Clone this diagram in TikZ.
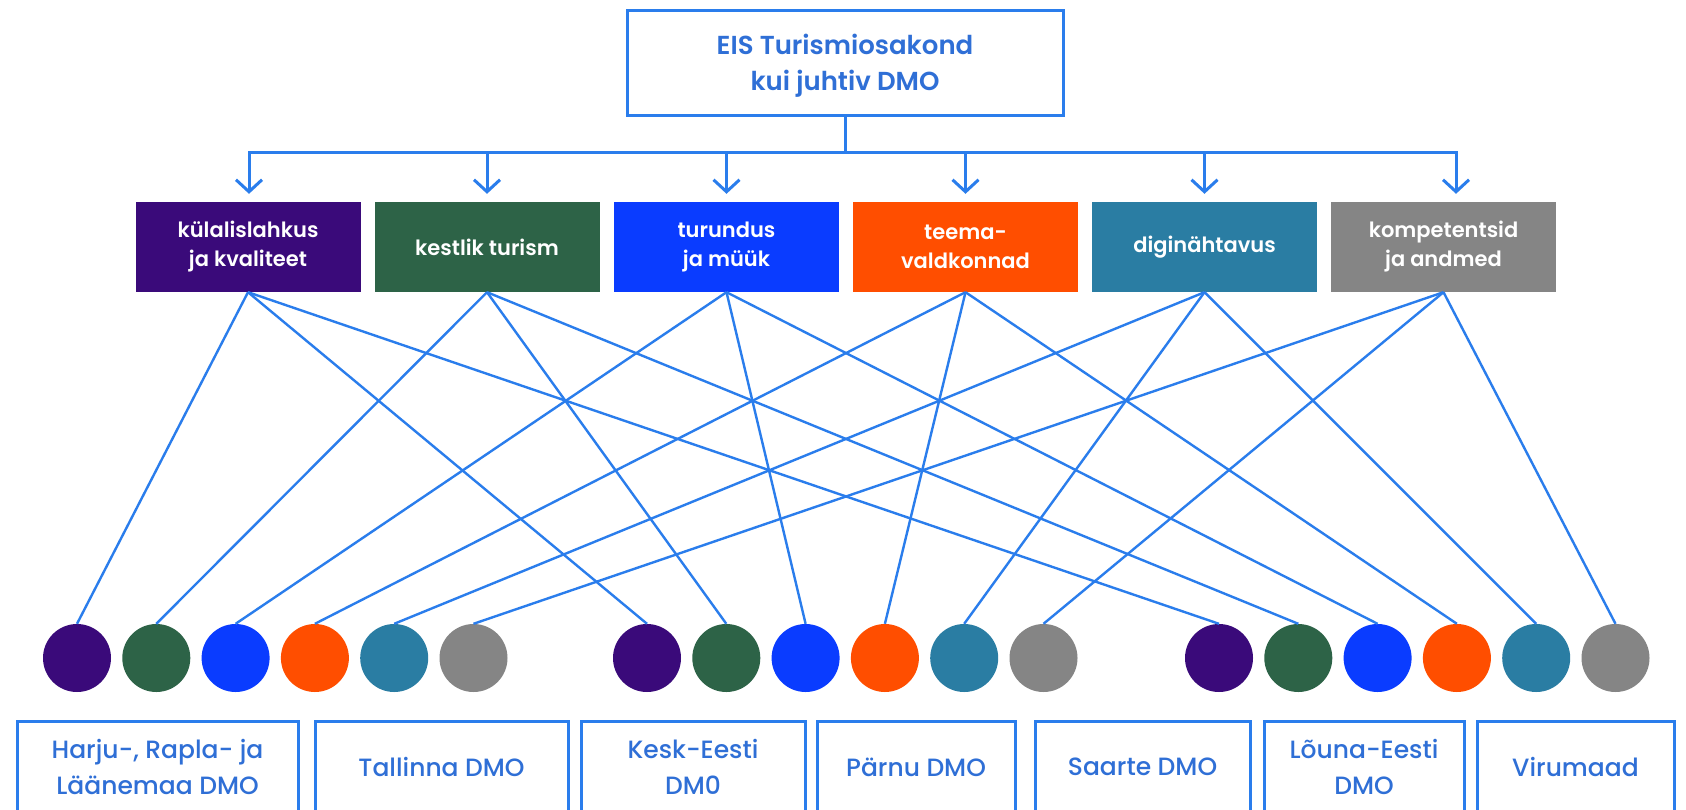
\documentclass[tikz,border=0pt]{standalone}
\usepackage{fontspec}
\usetikzlibrary{arrows.meta}
\newfontfamily\medf{Poppins Medium}
\newfontfamily\semif{Poppins SemiBold}
\definecolor{lineblue}{HTML}{2A7DEC}
\definecolor{textblue}{HTML}{2F6FD6}
\definecolor{cpurple}{HTML}{3A0A7A}
\definecolor{cgreen}{HTML}{2D6347}
\definecolor{cblue}{HTML}{0A3CFF}
\definecolor{corange}{HTML}{FF4E00}
\definecolor{cteal}{HTML}{2A7DA3}
\definecolor{cgray}{HTML}{858585}
\begin{document}
\begin{tikzpicture}[x=1pt,y=-1pt,
  conn/.style={draw=lineblue, line width=2.4pt},
  cat/.style={rectangle, minimum width=225pt, minimum height=90pt, inner sep=0pt, text=white, align=center, font=\semif\fontsize{21}{29}\selectfont},
  dmo/.style={rectangle, draw=lineblue, line width=3pt, fill=white, align=center, text=textblue, font=\medf\fontsize{25}{36}\selectfont, inner sep=0pt, minimum height=92pt},
  dot/.style={circle, minimum size=68pt, inner sep=0pt},
  arr/.style={draw=lineblue, line width=3pt, -{Straight Barb[length=12pt,width=26pt]}, shorten >=8pt},
  trunk/.style={draw=lineblue, line width=3pt}
]
\fill[white] (0,0) rectangle (1686,809);
\useasboundingbox (0,0) rectangle (1686,809);

% top box
\node[dmo, minimum width=436pt, minimum height=105pt] (top) at (845,62.5) {};
\node[align=center, text=textblue, inner sep=0pt, font=\semif\fontsize{26}{36}\selectfont] (toptext) at (845,66) {EIS Turismiosakond\\kui juhtiv DMO};

% category boxes
\node[cat, fill=cpurple] (c1) at (248,247) {külalislahkus\\ja kvaliteet};
\node[cat, fill=cgreen]  (c2) at (487,247) {kestlik turism};
\node[cat, fill=cblue]   (c3) at (726.5,247) {turundus\\ja müük};
\node[cat, fill=corange] (c4) at (965.5,247) {teema-\\valdkonnad};
\node[cat, fill=cteal]   (c5) at (1204.5,247) {diginähtavus};
\node[cat, fill=cgray]   (c6) at (1443.5,247) {kompetentsid\\ja andmed};

% trunk and arrows
\coordinate (hl) at (249,152);
\coordinate (hr) at (1456,152);
\draw[trunk] (top.south) -- (top.south |- hl);
\draw[trunk, line cap=rect] (hl) -- (hr);
\draw[arr] (hl) -- ([xshift=1pt]c1.north);
\draw[arr] (c2.north |- hl) -- (c2.north);
\draw[arr] (c3.north |- hl) -- (c3.north);
\draw[arr] (c4.north |- hl) -- (c4.north);
\draw[arr] (c5.north |- hl) -- (c5.north);
\draw[arr] (hr) -- ([xshift=12.5pt]c6.north);

% dots
\foreach \g/\xs in {a/77, b/647, c/1219}{
  \foreach \i/\col in {1/cpurple,2/cgreen,3/cblue,4/corange,5/cteal,6/cgray}{
    \node[dot, fill=\col] (d\g\i) at ({\xs+(\i-1)*79.3},658) {};
  }
}

% connectors
\foreach \i in {1,...,6}{
  \draw[conn] (c\i.south) -- (da\i.north);
  \draw[conn] (c\i.south) -- (db\i.north);
  \draw[conn] (c\i.south) -- (dc\i.north);
}

% bottom boxes
\node[dmo, minimum width=281pt] (b1) at (157.5,767) {Harju-, Rapla- ja\\Läänemaa DMO};
\node[dmo, minimum width=253pt] (b2) at (441.5,767) {Tallinna DMO};
\node[dmo, minimum width=224pt] (b3) at (693,767) {Kesk-Eesti\\DM0};
\node[dmo, minimum width=198pt] (b4) at (916,767) {Pärnu DMO};
\node[dmo, minimum width=215pt] (b5) at (1142.5,767) {Saarte DMO};
\node[dmo, minimum width=200pt] (b6) at (1364,767) {Lõuna-Eesti\\DMO};
\node[dmo, minimum width=197pt] (b7) at (1575.5,767) {Virumaad};
\end{tikzpicture}
\end{document}
